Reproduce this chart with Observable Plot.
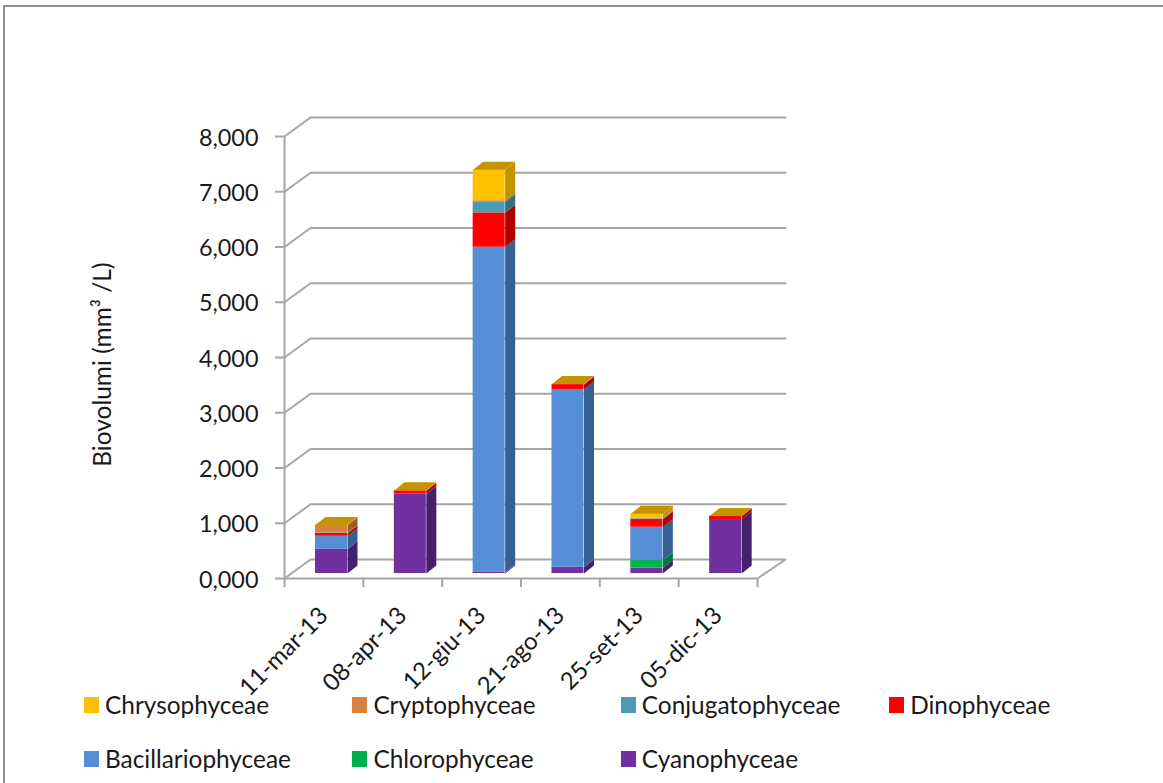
<!DOCTYPE html>
<html lang="it">
<head>
<meta charset="utf-8">
<script src="https://cdn.jsdelivr.net/npm/d3@7"></script>
<script src="https://cdn.jsdelivr.net/npm/@observablehq/plot@0.6"></script>
<style>
  html, body { margin: 0; padding: 0; background: #fff; overflow: hidden; }
  #sheet { position: relative; width: 1163px; height: 783px; font-family: Lato, sans-serif; color: #1a1a1a; }
  #sheet::before { content: ""; position: absolute; left: 3px; top: 5px; right: 0; bottom: 0;
    border-top: 2px solid #8f8f8f; border-left: 2px solid #8f8f8f; pointer-events: none; }
  #chart svg { display: block; background: transparent; }
  #legend { display: grid; grid-template-columns: repeat(4, 268.4px); grid-auto-rows: 26px; row-gap: 28px;
    padding-left: 84px; font-size: 24.4px; line-height: 26px; }
  #legend .item { display: flex; align-items: center; white-space: nowrap; }
  #legend .swatch { width: 15px; height: 16px; margin-right: 6px; flex: none; }
</style>
</head>
<body>
<div id="sheet">
  <div id="chart"></div>
  <div id="legend"></div>
</div>
<script>
// Sampling dates and phytoplankton biovolume by class (mm3/L)
const dates = ["11-mar-13", "08-apr-13", "12-giu-13", "21-ago-13", "25-set-13", "05-dic-13"];
const cyanophyceae     = [0.44, 1.44, 0.02, 0.115, 0.10, 0.977];
const chlorophyceae    = [0, 0, 0, 0, 0.135, 0];
const bacillariophyceae = [0.235, 0, 5.886, 3.215, 0.603, 0];
const dinophyceae      = [0.05, 0.06, 0.622, 0.09, 0.139, 0.06];
const conjugatophyceae = [0.01, 0, 0.19, 0, 0.012, 0];
const cryptophyceae    = [0.14, 0, 0.03, 0, 0.011, 0];
const chrysophyceae    = [0.005, 0.005, 0.56, 0.01, 0.08, 0.005];
const yTicks = [0, 1, 2, 3, 4, 5, 6, 7, 8];

// Stack order, bottom to top
const stackOrder = [
  ["Cyanophyceae", cyanophyceae, "#7030a0", "#46206a"],
  ["Chlorophyceae", chlorophyceae, "#00b050", "#007a38"],
  ["Bacillariophyceae", bacillariophyceae, "#558ed5", "#376092"],
  ["Dinophyceae", dinophyceae, "#ff0000", "#b00000"],
  ["Conjugatophyceae", conjugatophyceae, "#4a9ab0", "#31707f"],
  ["Cryptophyceae", cryptophyceae, "#d98240", "#a05d28"],
  ["Chrysophyceae", chrysophyceae, "#ffc000", "#c49300"]
];
const legendOrder = ["Chrysophyceae", "Cryptophyceae", "Conjugatophyceae", "Dinophyceae",
                     "Bacillariophyceae", "Chlorophyceae", "Cyanophyceae"];

// Oblique projection, expressed in scale units (categories and mm3/L)
const wallX = 0.33, wallY = 0.344;      // depth of the chart floor
const xEnd = 6.355;                     // right end of the back wall
const barStart = 0.393, barWidth = 0.406;
const barLiftY = 0.09;                  // bars stand slightly in from the front edge
const barDepthX = 0.127, barDepthY = 0.145;

// One row per stacked segment
const segments = [];
dates.forEach((date, i) => {
  let base = barLiftY;
  for (const [name, values, front, side] of stackOrder) {
    const top = base + values[i];
    segments.push({i, name, y1: base, y2: top, x1: i + barStart, x2: i + barStart + barWidth, front, side});
    base = top;
  }
});

// Right-hand face of each segment and the lid of each column, as closed polygons
const sideFaces = segments.filter(s => s.y2 > s.y1).flatMap(s => {
  const id = `${s.i}-${s.name}`;
  return [
    {id, fill: s.side, x: s.x2, y: s.y1},
    {id, fill: s.side, x: s.x2 + barDepthX, y: s.y1 + barDepthY},
    {id, fill: s.side, x: s.x2 + barDepthX, y: s.y2 + barDepthY},
    {id, fill: s.side, x: s.x2, y: s.y2}
  ];
});
const lidColor = stackOrder[stackOrder.length - 1][3];
const lids = segments.filter(s => s.name === "Chrysophyceae").flatMap(s => [
  {id: s.i, x: s.x1, y: s.y2},
  {id: s.i, x: s.x2, y: s.y2},
  {id: s.i, x: s.x2 + barDepthX, y: s.y2 + barDepthY},
  {id: s.i, x: s.x1 + barDepthX, y: s.y2 + barDepthY}
]);

// Back-wall gridlines bent along the side wall; the lowest one closes the floor
const gridRows = yTicks.flatMap(v => {
  const row = [
    {v, x: 0, y: v},
    {v, x: wallX, y: v + wallY},
    {v, x: xEnd, y: v + wallY}
  ];
  if (v === 0) row.push({v, x: dates.length, y: 0});
  return row;
});

const gridColor = "#a6a6a6";
const decimalComma = v => d3.format(".3f")(v).replace(".", ",");

const chart = Plot.plot({
  width: 1163,
  height: 700,
  marginLeft: 284,
  marginRight: 378,
  marginTop: 117,
  marginBottom: 122,
  style: {fontFamily: "Lato, sans-serif", fontSize: "24px", color: "#1a1a1a", background: "transparent"},
  x: {domain: [0, xEnd]},
  y: {domain: [0, (578 - 117) / 55.25]},
  color: {domain: stackOrder.map(d => d[0]), range: stackOrder.map(d => d[2])},
  marks: [
    Plot.line(gridRows, {x: "x", y: "y", z: "v", stroke: gridColor, strokeWidth: 2}),
    Plot.ruleY([0], {x1: 0, x2: dates.length, stroke: gridColor, strokeWidth: 2}),
    Plot.ruleX([0], {y1: 0, y2: 8, stroke: gridColor, strokeWidth: 2}),
    Plot.axisY({ticks: yTicks, tickSize: 9, tickFormat: () => "", label: null,
                stroke: gridColor, strokeWidth: 2}),
    Plot.text(yTicks, {frameAnchor: "left", y: d => d, dx: -26, dy: 1.5, textAnchor: "end",
                       text: decimalComma, fontSize: 23.4, fill: "#1a1a1a"}),
    Plot.axisX({ticks: d3.range(dates.length + 1), tickSize: 9, tickFormat: () => "", label: null,
                stroke: gridColor, strokeWidth: 2}),
    Plot.line(sideFaces, {x: "x", y: "y", z: "id", fill: "fill", stroke: "none"}),
    Plot.rect(segments.filter(s => s.y2 > s.y1), {x1: "x1", x2: "x2", y1: "y1", y2: "y2", fill: "name"}),
    Plot.line(lids, {x: "x", y: "y", z: "id", fill: lidColor, stroke: "none"}),
    Plot.text(dates, {x: (d, i) => i + 0.5, y: () => 0, text: d => d, rotate: -45, textAnchor: "end",
                      lineAnchor: "middle", dx: 0, dy: 33, fontSize: 24, fill: "#1a1a1a"}),
    Plot.text(["Biovolumi (mm³ /L)"], {frameAnchor: "left", dx: -181, y: () => 3.87, rotate: -90,
                                        textAnchor: "middle", text: d => d, fontSize: 24.5, fill: "#1a1a1a"})
  ]
});
document.getElementById("chart").append(chart);

// Legend in four columns, below the plot
const fronts = new Map(stackOrder.map(d => [d[0], d[2]]));
d3.select("#legend").style("margin-top", "-8px")
  .selectAll(".item").data(legendOrder).join("div")
  .attr("class", "item")
  .html(name => `<span class="swatch" style="background:${fronts.get(name)}"></span><span>${name}</span>`);
</script>
</body>
</html>
